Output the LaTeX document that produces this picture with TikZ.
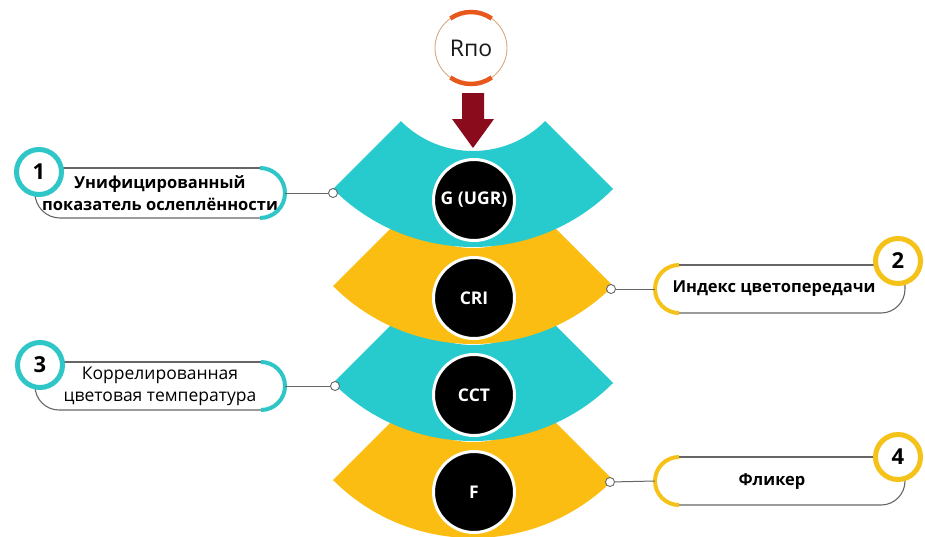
\documentclass[tikz,border=0pt]{standalone}
\usepackage{fontspec}
\setmainfont{Open Sans}
\usetikzlibrary{calc}
\definecolor{bandteal}{HTML}{27CACD}
\definecolor{bandyel}{HTML}{FBBD12}
\definecolor{ringteal}{HTML}{2EC6C6}
\definecolor{ringyel}{HTML}{F5C21A}
\definecolor{arrowred}{HTML}{8A0B1C}
\definecolor{ringorange}{HTML}{E8581C}
\definecolor{ringtan}{HTML}{D6A886}
\definecolor{cardgray}{HTML}{666666}
\newcommand\drawband[2]{%
  \fill[#2] ($(#1)+(45:102)$) arc[start angle=45,end angle=135,radius=102]
    -- ($(#1)+(135:198)$) arc[start angle=135,end angle=45,radius=198] -- cycle;}
\begin{document}
\begin{tikzpicture}[x=1pt,y=-1pt,
  core/.style={circle, fill=black, draw=white, line width=3pt, minimum size=81pt,
    inner sep=0pt, text=white, font=\bfseries\fontsize{17.5}{18}\selectfont},
  numcirc/.style={circle, fill=white, line width=5pt, minimum size=45pt,
    inner sep=0pt, font=\bfseries\fontsize{22}{22}\selectfont},
  dotc/.style={circle, draw=cardgray, fill=white, line width=0.9pt,
    minimum size=9pt, inner sep=0pt},
  card/.style={minimum width=250pt, minimum height=48pt, inner sep=0pt,
    align=center, font=\fontsize{16.5}{22}\selectfont},
  cardline/.style={draw=cardgray, line width=1.1pt},
  endarc/.style={line width=4pt},
  link/.style={draw=cardgray, line width=1pt}]
\useasboundingbox (0,0) rectangle (925,536);
% band centres
\coordinate (c1) at (473,49);
\coordinate (c2) at (473,146);
\coordinate (c3) at (473,243);
\coordinate (c4) at (473,340);
\drawband{c4}{bandyel}
\drawband{c3}{bandteal}
\drawband{c2}{bandyel}
\drawband{c1}{bandteal}
% arrow
\fill[arrowred] (462,93) -- (484,93) -- (484,119) -- (494,119) -- (473,148)
  -- (452,119) -- (462,119) -- cycle;
% R po
\node[circle, draw=ringtan, line width=0.9pt, minimum size=72pt, inner sep=0pt,
  font=\fontsize{23}{24}\selectfont, text=black!90] (rpo) at (471,48) {Rпо};
\draw[ringorange, line width=4.5pt] ($(rpo.center)+(-125:36)$)
  arc[start angle=-125,end angle=-55,radius=36];
\draw[ringorange, line width=4.5pt] ($(rpo.center)+(55:36)$)
  arc[start angle=55,end angle=125,radius=36];
% core circles
\node[core] (g) at (474,200) {G (UGR)};
\node[core] (cri) at (474,298) {CRI};
\node[core] (cct) at (474,395) {CCT};
\node[core] (f) at (474,492) {F};
% dots
\node[dotc] (d1) at (333,193) {};
\node[dotc] (d2) at (611,289) {};
\node[dotc] (d3) at (335,386) {};
\node[dotc] (d4) at (610,482) {};
% card 1
\node[card, minimum height=50pt] (k1) at (160,193)
  {\bfseries Унифицированный\\\bfseries показатель ослеплённости};
\draw[cardline] (58,168) -- (260,168);
\draw[cardline] (260,218) -- (60,218) arc[start angle=90,end angle=180,radius=25];
\draw[ringteal, endarc] (260,168) arc[start angle=-90,end angle=90,radius=25];
\node[numcirc, draw=ringteal] (n1) at (39,172) {1};
\draw[link] (k1.east) -- (d1);
% card 3
\node[card, font=\fontsize{17.5}{22}\selectfont] (k3) at (160,386)
  {Коррелированная\\цветовая температура};
\draw[cardline] (58,362) -- (261,362);
\draw[cardline] (261,410) -- (59,410) arc[start angle=90,end angle=180,radius=24];
\draw[ringteal, endarc] (261,362) arc[start angle=-90,end angle=90,radius=24];
\node[numcirc, draw=ringteal] (n3) at (40,365) {3};
\draw[link] (k3.east) -- (d3);
% card 2
\node[card] (k2) at (780,289) {\hspace*{-12pt}\bfseries Индекс цветопередачи};
\draw[cardline] (679,265) -- (880,265);
\draw[cardline] (679,313) -- (881,313) arc[start angle=90,end angle=0,radius=24] -- (905,282);
\draw[ringyel, endarc] (679,265) arc[start angle=-90,end angle=-270,radius=24];
\node[numcirc, draw=ringyel] (n2) at (898,261) {2};
\draw[link] (d2) -- (k2.west);
% card 4
\node[card] (k4) at (780,481) {\hspace*{-16pt}\bfseries Фликер};
\draw[cardline] (679,457) -- (880,457);
\draw[cardline] (679,505) -- (881,505) arc[start angle=90,end angle=0,radius=24] -- (905,478);
\draw[ringyel, endarc] (679,457) arc[start angle=-90,end angle=-270,radius=24];
\node[numcirc, draw=ringyel] (n4) at (898,457) {4};
\draw[link] (d4) -- (k4.west);
\end{tikzpicture}
\end{document}
